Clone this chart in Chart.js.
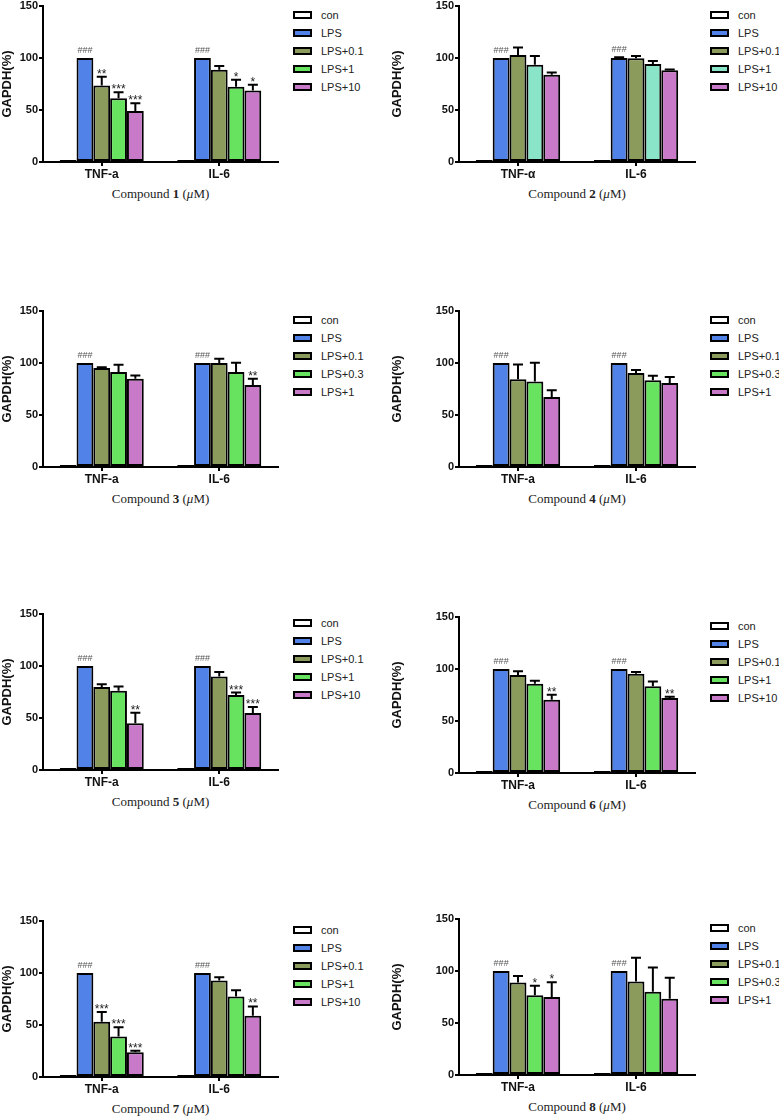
<!DOCTYPE html>
<html>
<head>
<meta charset="utf-8">
<script src="https://cdn.jsdelivr.net/npm/chart.js@4"></script>
<style>
body{margin:0;background:#fff;}
#page{position:relative;width:779px;height:1118px;overflow:hidden;}
.plot{position:absolute;}
.title{position:absolute;font:13px "Liberation Serif","Times New Roman",serif;color:#222;white-space:nowrap;transform:translate(-50%,-50%);}
.legend{position:absolute;font:11px Arial,"Liberation Sans",sans-serif;color:#222;}
.legend div{position:absolute;white-space:nowrap;height:18px;line-height:18px;}
.legend span{position:absolute;left:0;top:5px;width:15px;height:4px;border:2px solid #000;}
.legend em{position:absolute;left:28px;font-style:normal;}
</style>
</head>
<body>
<div id="page"></div>
<script>
// data

const cats1 = ['TNF-a','IL-6'];
const cats2 = ['TNF-\u03b1','IL-6'];
const dose10 = ['con','LPS','LPS+0.1','LPS+1','LPS+10'];
const dose1 = ['con','LPS','LPS+0.1','LPS+0.3','LPS+1'];
const yTicks = [0,50,100,150];

// each row = one series, [TNF, IL-6]
const mean1 = [[0.5,1.2],[100,100],[73.6,88.6],[61.4,72.3],[49,68.8]];
const sd1 = [[0,0],[0,0],[8.4,3.8],[5.6,6.7],[7.6,5.4]];
const sig1 = [['',''],['###','###'],['**',''],['***','*'],['***','*']];

const mean2 = [[1.5,0.6],[100,100],[103,99.8],[93.4,94.3],[84,88.3]];
const sd2 = [[0,0],[0,0.8],[7,2.2],[8.6,2.7],[2,0.7]];
const sig2 = [['',''],['###','###'],['',''],['',''],['','']];

const mean3 = [[1.3,0.6],[100,100],[95.1,99.9],[91.3,91.3],[84.9,78.8]];
const sd3 = [[0,0],[0,0],[0.9,4.1],[7,8.9],[3.1,6.1]];
const sig3 = [['',''],['###','###'],['',''],['',''],['','**']];

const mean4 = [[0.3,0.3],[100,100],[84.3,90.3],[82.3,83.3],[67.3,80.8]];
const sd4 = [[0,0],[0,0],[14.3,2.9],[17.9,4.5],[6.4,5.7]];
const sig4 = [['',''],['###','###'],['',''],['',''],['','']];

const mean5 = [[0.8,0.5],[100,100],[79.8,90],[76.3,72.1],[44.9,54.8]];
const sd5 = [[0,0],[0,0],[2.6,4.2],[4.1,2.3],[10.2,5.8]];
const sig5 = [['',''],['###','###'],['',''],['','***'],['**','***']];

const mean6 = [[1.6,1],[100,100],[94.2,95.5],[85.9,83.3],[70.5,72.1]];
const sd6 = [[0,0],[0,0],[3.6,1.6],[2.9,4.8],[4.8,1.3]];
const sig6 = [['',''],['###','###'],['',''],['',''],['**','**']];

const mean7 = [[0.3,1],[100,100],[53.2,92.7],[38.9,77.4],[23.9,58.9]];
const sd7 = [[0,0],[0,0],[9.2,3.2],[8.9,6],[1.3,8.9]];
const sig7 = [['',''],['###','###'],['***',''],['***',''],['***','**']];

const mean8 = [[1.6,0.5],[100,100],[89,89.9],[76.6,80],[75,73.4]];
const sd8 = [[0,0],[0,0],[6.3,22.9],[9.2,23.3],[14.3,20]];
const sig8 = [['',''],['###','###'],['',''],['*',''],['*','']];

// colours
const cWhite = '#ffffff', cBlue = '#5082e8', cOlive = '#8a9b5c', cGreen = '#68e35f', cPink = '#c87ac8', cMint = '#8ae5c8';
const colorsA = [cWhite,cBlue,cOlive,cGreen,cPink];
const colorsB = [cWhite,cBlue,cOlive,cMint,cPink];

// panels: number, data, column, top of y axis
const panels = [
	{n:'1', cats:cats1, labels:dose10, mean:mean1, sd:sd1, sig:sig1, colors:colorsA, col:0, top:6},
	{n:'2', cats:cats2, labels:dose10, mean:mean2, sd:sd2, sig:sig2, colors:colorsB, col:1, top:6},
	{n:'3', cats:cats1, labels:dose1, mean:mean3, sd:sd3, sig:sig3, colors:colorsA, col:0, top:311},
	{n:'4', cats:cats1, labels:dose1, mean:mean4, sd:sd4, sig:sig4, colors:colorsA, col:1, top:311},
	{n:'5', cats:cats1, labels:dose10, mean:mean5, sd:sd5, sig:sig5, colors:colorsA, col:0, top:614},
	{n:'6', cats:cats1, labels:dose10, mean:mean6, sd:sd6, sig:sig6, colors:colorsA, col:1, top:617},
	{n:'7', cats:cats1, labels:dose10, mean:mean7, sd:sd7, sig:sig7, colors:colorsA, col:0, top:921},
	{n:'8', cats:cats1, labels:dose1, mean:mean8, sd:sd8, sig:sig8, colors:colorsA, col:1, top:919}
];

const plotH = 156;
const padTop = 10;
const xScaleH = 22;
const sans = 'Arial, "Liberation Sans", Helvetica, sans-serif';

//error bars and significance marks
const errorBars = {
	id:'errorBars',
	afterDatasetsDraw(chart){
		const ctx = chart.ctx;
		const y = chart.scales.y;
		ctx.save();
		chart.data.datasets.forEach(function(ds, i){
			const meta = chart.getDatasetMeta(i);
			meta.data.forEach(function(bar, j){
				let top = bar.y;
				const sd = ds.sd[j];
				if(sd > 0){
					top = y.getPixelForValue(ds.data[j] + sd);
					ctx.strokeStyle = '#000';
					ctx.lineWidth = 2;
					ctx.beginPath();
					ctx.moveTo(bar.x, bar.y);
					ctx.lineTo(bar.x, top);
					ctx.moveTo(bar.x - 5, top);
					ctx.lineTo(bar.x + 5, top);
					ctx.stroke();
				}
				const s = ds.sig[j];
				if(s){
					ctx.textAlign = 'center';
					ctx.textBaseline = 'alphabetic';
					if(s.charAt(0) == '#'){
						ctx.fillStyle = '#555';
						ctx.font = '9px ' + sans;
						ctx.fillText(s, bar.x, top - 5);
					}else{
						ctx.fillStyle = '#222';
						ctx.font = '12px ' + sans;
						ctx.fillText(s, bar.x, top + 1);
					}
				}
			});
		});
		ctx.restore();
	}
};

const page = document.getElementById('page');

panels.forEach(function(p){
	const canvasLeft = p.col == 0 ? 0 : 390;
	const axisX = p.col == 0 ? 43 : 459;
	const axisRight = p.col == 0 ? 278 : 695;
	const w = axisRight - canvasLeft + 2;
	const h = padTop + plotH + xScaleH;

	const wrap = document.createElement('div');
	wrap.className = 'plot';
	wrap.style.left = canvasLeft + 'px';
	wrap.style.top = (p.top - padTop) + 'px';
	const canvas = document.createElement('canvas');
	canvas.width = w;
	canvas.height = h;
	wrap.appendChild(canvas);
	page.appendChild(wrap);

	new Chart(canvas, {
		type:'bar',
		data:{
			labels:p.cats,
			datasets:p.labels.map(function(lab, i){
				return {
					label:lab,
					data:p.mean[i],
					sd:p.sd[i],
					sig:p.sig[i],
					backgroundColor:p.colors[i],
					borderColor:'#000',
					borderWidth:2,
					borderSkipped:false,
					minBarLength:2,
					barPercentage:1,
					categoryPercentage:0.715
				};
			})
		},
		options:{
			responsive:false,
			animation:false,
			devicePixelRatio:1,
			layout:{padding:{top:padTop, right:2, left:0, bottom:0}},
			plugins:{legend:{display:false}, tooltip:{enabled:false}},
			scales:{
				x:{
					afterFit:function(s){ s.height = xScaleH; },
					grid:{display:true, offset:false, drawOnChartArea:false, drawTicks:true, tickLength:4, color:'#000', lineWidth:2},
					border:{display:true, color:'#000', width:2},
					ticks:{color:'#111', padding:1, font:{family:sans, size:12, weight:'bold'}}
				},
				y:{
					min:0, max:150,
					afterFit:function(s){ s.width = axisX - canvasLeft; },
					afterBuildTicks:function(s){ s.ticks = yTicks.map(function(v){ return {value:v}; }); },
					grid:{display:true, drawOnChartArea:false, drawTicks:true, tickLength:4, color:'#000', lineWidth:2},
					border:{display:true, color:'#000', width:2},
					ticks:{color:'#111', padding:1, font:{family:sans, size:11, weight:'bold'}},
					title:{display:true, text:'GAPDH(%)', color:'#111', padding:0, font:{family:sans, size:13, weight:'bold'}}
				}
			}
		},
		plugins:[errorBars]
	});

	// x axis title
	const t = document.createElement('div');
	t.className = 'title';
	t.style.left = ((axisX + axisRight) / 2) + 'px';
	t.style.top = (p.top + plotH + 32) + 'px';
	t.innerHTML = 'Compound <b>' + p.n + '</b> (<i>\u03bc</i>M)';
	page.appendChild(t);

	// legend
	const lg = document.createElement('div');
	lg.className = 'legend';
	lg.style.left = (axisRight + 15) + 'px';
	lg.style.top = p.top + 'px';
	p.labels.forEach(function(lab, i){
		const row = document.createElement('div');
		row.style.top = (i * 18) + 'px';
		const box = document.createElement('span');
		box.style.background = p.colors[i];
		const txt = document.createElement('em');
		txt.textContent = lab;
		row.appendChild(box);
		row.appendChild(txt);
		lg.appendChild(row);
	});
	page.appendChild(lg);
});
</script>
</body>
</html>
